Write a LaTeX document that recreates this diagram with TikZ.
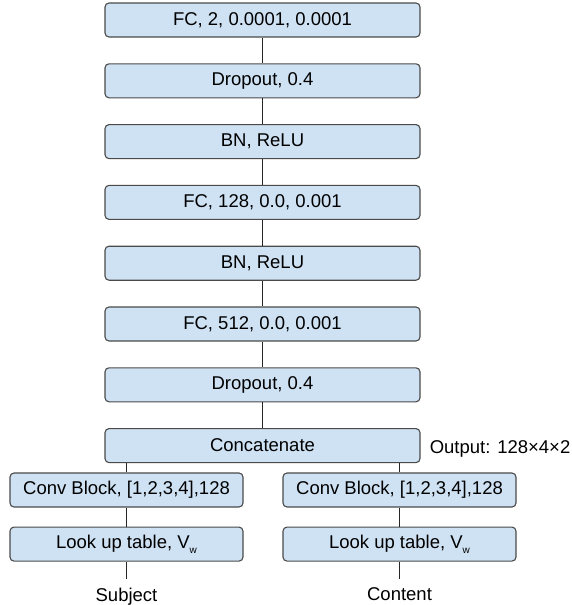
\documentclass[tikz,border=0pt]{standalone}
\usepackage{fontspec}
\setmainfont{Liberation Sans}
\usepackage{tikz}
\usetikzlibrary{positioning}

\definecolor{boxfill}{HTML}{CFE2F3}
\definecolor{boxline}{HTML}{4A4A4A}
\newcommand{\wsub}{\raisebox{-0.45ex}{\fontsize{10}{10}\selectfont w}}

\begin{document}
\begin{tikzpicture}[
  x=1pt, y=1pt,
  node distance=25.7pt,
  font=\fontsize{18.5}{22}\selectfont,
  layer/.style={rectangle, draw=boxline, fill=boxfill, rounded corners=4pt, line width=1.1pt, minimum width=315pt, minimum height=34pt, inner sep=2pt, align=center},
  branch/.style={layer, minimum width=233pt},
  link/.style={draw=black!85, line width=1pt},
  inlbl/.style={inner sep=0pt, outer ysep=9pt}
]
\useasboundingbox (0,0) rectangle (571,-605);

% main column, top to bottom
\node[layer]                 (fc2)    at (262.5,-20) {FC, 2, 0.0001, 0.0001};
\node[layer, below=of fc2]   (drop1)  {Dropout, 0.4};
\node[layer, below=of drop1] (bn1)    {BN, ReLU};
\node[layer, below=of bn1]   (fc128)  {FC, 128, 0.0, 0.001};
\node[layer, below=of fc128] (bn2)    {BN, ReLU};
\node[layer, below=of bn2]   (fc512)  {FC, 512, 0.0, 0.001};
\node[layer, below=of fc512] (drop2)  {Dropout, 0.4};
\node[layer, below=of drop2] (concat) {Concatenate};
\node[right=9pt of concat.base east, anchor=base west, yshift=-2pt, inner sep=0pt] (outsz) {Output: 128×4×2};

% two branches
\node[branch] (convs) at (126.5,-490) {Conv Block, [1,2,3,4],128};
\node[branch] (convc) at (399.5,-490) {Conv Block, [1,2,3,4],128};
\node[branch, below=19pt of convs] (luts) {Look up table, V\wsub};
\node[branch, below=19pt of convc] (lutc) {Look up table, V\wsub};
\node[inlbl, below=17pt of luts] (subj) {Subject};
\node[inlbl, below=17pt of lutc] (cont) {Content};

% connectors
\foreach \a/\b in {fc2/drop1, drop1/bn1, bn1/fc128, fc128/bn2, bn2/fc512, fc512/drop2, drop2/concat}
  \draw[link] (\a) -- (\b);
\draw[link] (concat.south -| convs.north) -- (convs);
\draw[link] (concat.south -| convc.north) -- (convc);
\draw[link] (convs) -- (luts);
\draw[link] (convc) -- (lutc);
\draw[link] (luts) -- (subj);
\draw[link] (lutc) -- (cont);

\end{tikzpicture}
\end{document}
